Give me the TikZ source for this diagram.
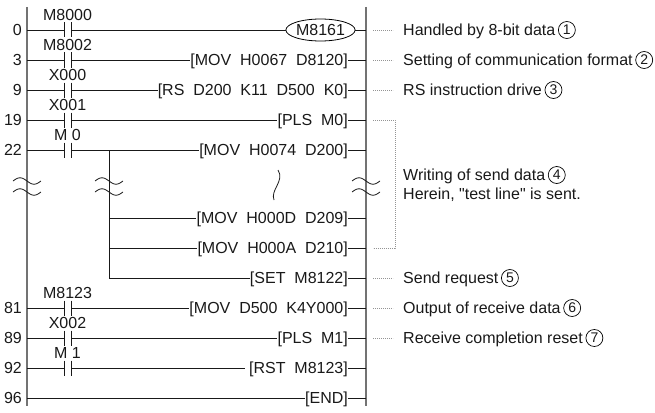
\documentclass[tikz,border=0pt]{standalone}
\usepackage{fontspec}
\setmainfont{Liberation Sans}
\newfontfamily\rawsans{Liberation Sans}[Ligatures=TeXOff]
\usetikzlibrary{positioning,shapes.geometric}

% Colours of the ladder
\definecolor{railgray}{rgb}{0.450000,0.450000,0.450000}
\definecolor{dotgray}{rgb}{0.580000,0.580000,0.580000}
\definecolor{inkblack}{rgb}{0.100000,0.100000,0.100000}

\tikzset{
  rail/.style={line width=1.3pt, railgray},
  rung/.style={line width=0.8pt, inkblack},
  instr/.style={inner sep=0pt, anchor=east, text height=11.5pt, text depth=0pt, text=inkblack, font=\fontsize{16}{18}\selectfont},
  stepno/.style={instr},
  clabel/.style={inner sep=0pt, anchor=south, text height=11.5pt, text depth=0pt, text=inkblack, font=\fontsize{16}{18}\selectfont},
  coil/.style={ellipse, draw, line width=0.8pt, inner sep=0pt, minimum width=61pt, minimum height=22pt, text height=11.5pt, text depth=0pt, text=inkblack, font=\fontsize{16}{18}\selectfont},
  remark/.style={inner sep=0pt, anchor=west, text height=11.5pt, text depth=0pt, text=inkblack, font=\fontsize{16}{18}\selectfont},
  cnum/.style={circle, draw, line width=0.7pt, inner sep=0pt, minimum size=17pt, right=2.5pt of #1, text=inkblack, font=\fontsize{14}{14}\selectfont},
  leader/.style={dotgray, line width=0.7pt, dash pattern=on 0.7pt off 1.3pt},
}

% Contact: name, row y, device label
\newcommand{\plccontact}[3]{%
  \coordinate (#1l) at (64,#2);
  \coordinate (#1r) at (71,#2);
  \draw[rung] (64,#2-7.5) -- (64,#2+7.5);
  \draw[rung] (71,#2-7.5) -- (71,#2+7.5);
  \node[clabel] (#1n) at (67.5,#2-9) {#3};
}

% Break mark across a vertical line: x, y
\newcommand{\railbreak}[2]{%
  \draw[rung] plot[domain=0:360, samples=25, smooth] ({#1-14+28*\x/360},{#2-3.2*sin(\x)});
}

\begin{document}
\begin{tikzpicture}[x=1pt, y=-1pt]
  \useasboundingbox (0,0) rectangle (655,412);

  % Drawing left and right rails
  \draw[rail] (27,7) -- (27,406);
  \draw[rail] (366,7) -- (366,406);

  % Rail points of each row
  \coordinate (l0) at (27,30);    \coordinate (r0) at (366,30);
  \coordinate (l3) at (27,60);    \coordinate (r3) at (366,60);
  \coordinate (l9) at (27,90);    \coordinate (r9) at (366,90);
  \coordinate (l19) at (27,120);  \coordinate (r19) at (366,120);
  \coordinate (l22) at (27,150);  \coordinate (r22) at (366,150);
  \coordinate (b209) at (109,218); \coordinate (r209) at (366,218);
  \coordinate (b210) at (109,248); \coordinate (r210) at (366,248);
  \coordinate (bset) at (109,278); \coordinate (rset) at (366,278);
  \coordinate (l81) at (27,308);  \coordinate (r81) at (366,308);
  \coordinate (l89) at (27,338);  \coordinate (r89) at (366,338);
  \coordinate (l92) at (27,368);  \coordinate (r92) at (366,368);
  \coordinate (l96) at (27,398);  \coordinate (r96) at (366,398);

  % Step numbers
  \node[stepno] (s0) at (22,30) {0};
  \node[stepno] (s3) at (22,60) {3};
  \node[stepno] (s9) at (22,90) {9};
  \node[stepno] (s19) at (22,120) {19};
  \node[stepno] (s22) at (22,150) {22};
  \node[stepno] (s81) at (22,308) {81};
  \node[stepno] (s89) at (22,338) {89};
  \node[stepno] (s92) at (22,368) {92};
  \node[stepno] (s96) at (22,398) {96};

  % Contacts
  \plccontact{c0}{30}{M8000}
  \plccontact{c3}{60}{M8002}
  \plccontact{c9}{90}{X000}
  \plccontact{c19}{120}{X001}
  \plccontact{c22}{150}{M 0}
  \plccontact{c81}{308}{M8123}
  \plccontact{c89}{338}{X002}
  \plccontact{c92}{368}{M 1}

  % Output coil and instructions
  \node[coil] (i0) at (320.5,30) {M8161};
  \node[instr] (i3) at (348,60) {[MOV\ \ H0067\ \ D8120]};
  \node[instr] (i9) at (348,90) {[RS\ \ D200\ \ K11\ \ D500\ \ K0]};
  \node[instr] (i19) at (348,120) {[PLS\ \ M0]};
  \node[instr] (i22) at (348,150) {[MOV\ \ H0074\ \ D200]};
  \node[instr] (i209) at (348,218) {[MOV\ \ H000D\ \ D209]};
  \node[instr] (i210) at (348,248) {[MOV\ \ H000A\ \ D210]};
  \node[instr] (iset) at (348,278) {[SET\ \ M8122]};
  \node[instr] (i81) at (348,308) {[MOV\ \ D500\ \ K4Y000]};
  \node[instr] (i89) at (348,338) {[PLS\ \ M1]};
  \node[instr] (i92) at (348,368) {[RST\ \ M8123]};
  \node[instr] (i96) at (348,398) {[END]};

  % Drawing rungs
  \draw[rung] (l0) -- (c0l);   \draw[rung] (c0r) -- (i0.west);   \draw[rung] (i0.east) -- (r0);
  \draw[rung] (l3) -- (c3l);   \draw[rung] (c3r) -- (i3.west);   \draw[rung] (i3.east) -- (r3);
  \draw[rung] (l9) -- (c9l);   \draw[rung] (c9r) -- (i9.west);   \draw[rung] (i9.east) -- (r9);
  \draw[rung] (l19) -- (c19l); \draw[rung] (c19r) -- (i19.west); \draw[rung] (i19.east) -- (r19);
  \draw[rung] (l22) -- (c22l); \draw[rung] (c22r) -- (i22.west); \draw[rung] (i22.east) -- (r22);
  \draw[rung] (b209) -- (i209.west); \draw[rung] (i209.east) -- (r209);
  \draw[rung] (b210) -- (i210.west); \draw[rung] (i210.east) -- (r210);
  \draw[rung] (bset) -- (iset.west); \draw[rung] (iset.east) -- (rset);
  \draw[rung] (l81) -- (c81l); \draw[rung] (c81r) -- (i81.west); \draw[rung] (i81.east) -- (r81);
  \draw[rung] (l89) -- (c89l); \draw[rung] (c89r) -- (i89.west); \draw[rung] (i89.east) -- (r89);
  \draw[rung] (l92) -- (c92l); \draw[rung] (c92r) -- ([xshift=-4pt]i92.west); \draw[rung] (i92.east) -- (r92);
  \draw[rung] (l96) -- (i96.west); \draw[rung] (i96.east) -- (r96);

  % Drawing branch of step 22
  \draw[rung] (b209 |- l22) -- (bset);

  % Break marks
  \railbreak{27}{181}  \railbreak{27}{192}
  \railbreak{109}{181} \railbreak{109}{192}
  \railbreak{366}{181} \railbreak{366}{192}
  \draw[rung] (278,170) .. controls (285,181) and (270,190) .. (274,200);

  % Remarks
  \node[remark] (t1) at (403,30) {Handled by 8-bit data};
  \node[cnum=t1] (n1) {1};
  \node[remark] (t2) at (403,60) {Setting of communication format};
  \node[cnum=t2] (n2) {2};
  \node[remark] (t3) at (403,90) {RS instruction drive};
  \node[cnum=t3] (n3) {3};
  \node[remark] (t4) at (403,175) {Writing of send data};
  \node[cnum=t4] (n4) {4};
  \node[remark] (t4b) at (403,194) {\rawsans Herein, "test line" is sent.};
  \node[remark] (t5) at (403,278) {Send request};
  \node[cnum=t5] (n5) {5};
  \node[remark] (t6) at (403,308) {Output of receive data};
  \node[cnum=t6] (n6) {6};
  \node[remark] (t7) at (403,338) {Receive completion reset};
  \node[cnum=t7] (n7) {7};

  % Drawing dotted leaders
  \draw[leader] ([xshift=7pt]r0) -- ([xshift=-10pt]t1.west);
  \draw[leader] ([xshift=7pt]r3) -- ([xshift=-10pt]t2.west);
  \draw[leader] ([xshift=7pt]r9) -- ([xshift=-10pt]t3.west);
  \draw[leader] ([xshift=7pt]r19) -| ([xshift=29pt]r210) -- ([xshift=7pt]r210);
  \draw[leader] ([xshift=7pt]rset) -- ([xshift=-10pt]t5.west);
  \draw[leader] ([xshift=7pt]r81) -- ([xshift=-10pt]t6.west);
  \draw[leader] ([xshift=7pt]r89) -- ([xshift=-10pt]t7.west);
\end{tikzpicture}
\end{document}
